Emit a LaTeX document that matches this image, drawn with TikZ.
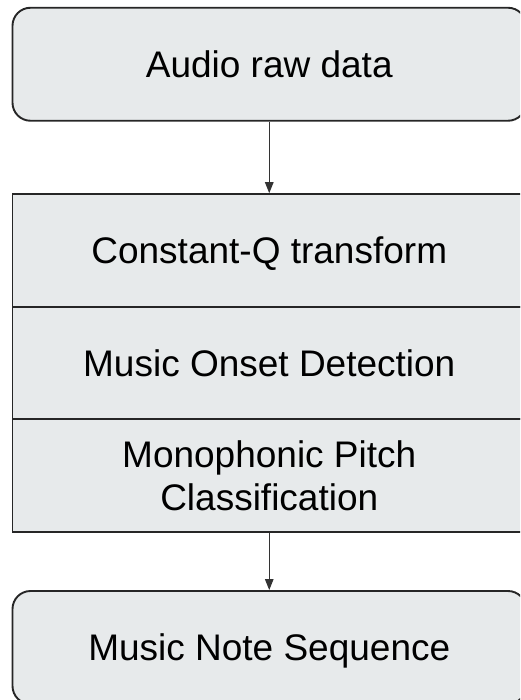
\documentclass[tikz,border=0pt]{standalone}
\usepackage{fontspec}
\setmainfont{Liberation Sans}
\usetikzlibrary{arrows.meta}
\definecolor{boxfill}{HTML}{E7EAEB}
\definecolor{boxline}{HTML}{262626}
\definecolor{arrowline}{HTML}{333333}
\begin{document}
\begin{tikzpicture}[x=1pt,y=-1pt,
  labelfont/.style={font=\fontsize{37}{43}\selectfont},
  basebox/.style={draw=boxline, fill=boxfill, line width=1.9pt,
    minimum width=513.5pt, inner sep=0pt, labelfont, align=center},
  roundbox/.style={basebox, rounded corners=18pt, minimum height=113pt,
    text height=26.5pt, text depth=0pt},
  stagebox/.style={basebox, minimum height=112.67pt},
  oneline/.style={text height=26.5pt, text depth=0pt},
  flowarrow/.style={draw=arrowline, line width=1.2pt,
    -{Triangle[length=11pt,width=8.5pt]}}
]
\useasboundingbox (0,0) rectangle (520,700);
\clip (0,0) rectangle (520,700);

% input
\node[roundbox] (raw) at (269.25,64.25) {Audio raw data};

% processing stages stacked in one block
\node[stagebox, oneline] (cqt)   at (269.25,250.5) {Constant-Q transform};
\node[stagebox, oneline] (onset) at (269.25,363)   {Music Onset Detection};
\node[stagebox]          (pitch) at (269.25,475.5) {Monophonic Pitch\\Classification};

% output
\node[roundbox] (notes) at (269.25,647.5) {Music Note Sequence};

% flow
\draw[flowarrow] (raw.south) -- (cqt.north);
\draw[flowarrow] (pitch.south) -- (notes.north);
\end{tikzpicture}
\end{document}
